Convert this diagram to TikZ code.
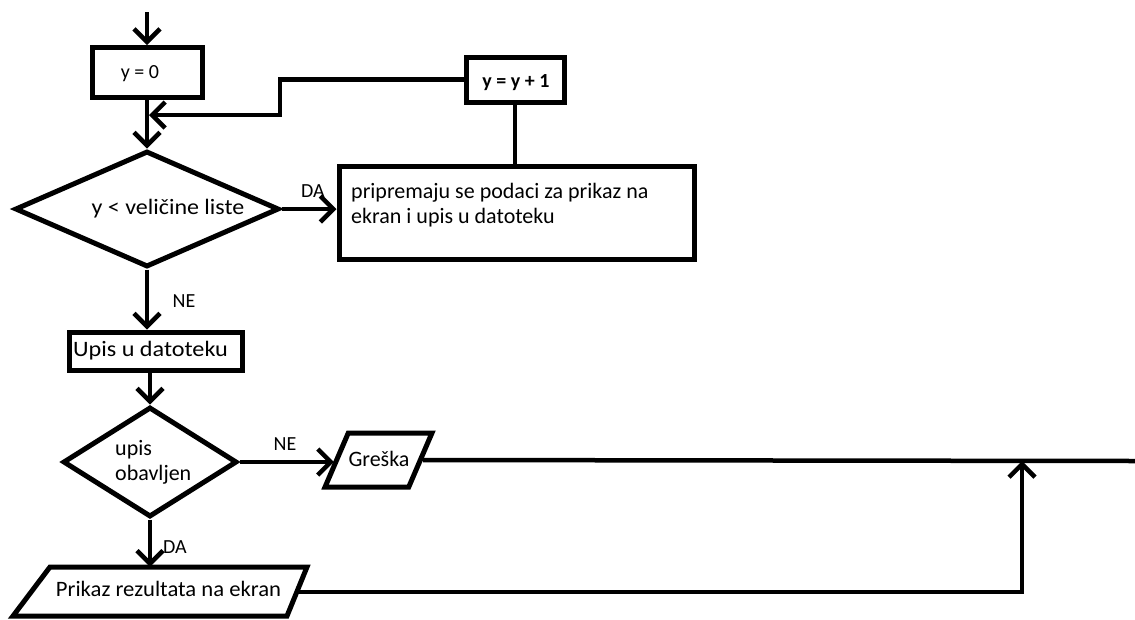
\documentclass[tikz,border=0pt]{standalone}
\usepackage{fontspec}
\setmainfont{Carlito}
\usetikzlibrary{shapes.geometric, arrows.meta}
\begin{document}
\begin{tikzpicture}[x=1pt,y=-1pt,
  box/.style={draw, line width=5pt, rectangle, inner sep=0pt},
  dec/.style={draw, line width=5pt, diamond, inner sep=0pt},
  io/.style={draw, line width=5pt, trapezium, trapezium stretches=true, inner sep=3pt},
  outl/.style={line width=5pt, line join=miter},
  conn/.style={line width=4.5pt},
  arr/.style={conn, -{Straight Barb[length=13pt,width=26pt]}},
  txt/.style={font=\fontsize{22}{26}\selectfont, inner sep=0pt},
  lbl/.style={font=\fontsize{20}{24}\selectfont, inner sep=0pt, anchor=base},
]
\fill[white] (0,0) rectangle (1135,619);
\useasboundingbox (0,0) rectangle (1135,619);

% shapes
\node[box, minimum width=110pt, minimum height=50pt] (y0) at (147,72.5) {};
\node[lbl] (y0t) at (140,78) {y = 0};
\node[box, minimum width=98pt, minimum height=45pt] (inc) at (515,79.5) {};
\node[lbl, font=\bfseries\fontsize{20}{24}\selectfont] (inct) at (516,87) {y = y + 1};
\node[dec, minimum width=264pt, minimum height=116pt] (d1) at (147,209) {};
\node[txt, anchor=base] (d1t) at (168,214) {\scalebox{1.09}[1]{y < veličine liste}};
\node[box, minimum width=355pt, minimum height=93pt] (prep) at (516.5,212.5) {};
\node[txt, anchor=base west] (prep1) at (351,198) {pripremaju se podaci za prikaz na};
\node[txt, anchor=base west] (prep2) at (351,223) {ekran i upis u datoteku};
\node[box, minimum width=173pt, minimum height=38pt] (upis) at (155.5,351) {};
\node[txt, anchor=base] (upist) at (150.5,356) {\scalebox{1.1}[1]{Upis u datoteku}};
\node[dec, minimum width=174pt, minimum height=110pt] (d2) at (150,462) {};
\node[txt, anchor=base west] (d2t1) at (115,455) {upis};
\node[txt, anchor=base west] (d2t2) at (115,480) {obavljen};
\node[io, trapezium left angle=69, trapezium right angle=111,
      minimum width=107pt, minimum height=54pt] (gr) at (378.5,460) {};
\node[txt, anchor=base] (grt) at (379,466) {Greška};
% output parallelogram (drawn directly: its two sides differ in slant)
\node[inner sep=0pt, minimum width=294pt, minimum height=49pt] (pr) at (160,591.5) {};
\draw[outl] (50,567) -- (307,567) -- (287,616) -- (13,616) -- cycle;
\node[txt, anchor=base] (prt) at (168.5,596) {\scalebox{1.03}[1]{Prikaz rezultata na ekran}};

% labels
\node[lbl] (da1) at (313,197) {DA};
\node[lbl] (ne1) at (184,307) {NE};
\node[lbl] (ne2) at (285,450) {NE};
\node[lbl] (da2) at (175,553) {DA};

% free ends
\coordinate (start) at (147,12);
\coordinate (j) at (149,115);
\coordinate (rend) at (1135,461);
\coordinate (m) at (1022,461);
\coordinate (pre) at (297,592);

% connectors
\draw[arr] (start) -- (y0.north);
\draw[arr] (y0.south) -- (d1.north);
\draw[arr] (inc.west) -- (280,79.5) -- (280,115) -- (j);
\draw[arr] (d1.east) -- (d1.east -| prep.west);
\draw[conn] (inc.south) -- (inc.south |- prep.north);
\draw[arr] (d1.south) -- (d1.south |- upis.north);
\draw[arr] (upis.south -| d2.north) -- (d2.north);
\draw[arr] (d2.east) -- (d2.east -| gr.west);
\draw[arr] (d2.south) -- (d2.south |- pr.north);
\draw[conn] (gr.east) -- (rend);
\draw[arr] (pre) -- (pre -| m) -- (m);
\end{tikzpicture}
\end{document}
